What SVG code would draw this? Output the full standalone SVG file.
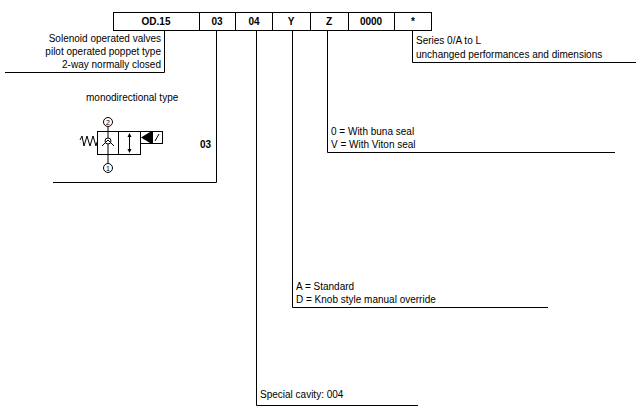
<svg xmlns="http://www.w3.org/2000/svg" width="643" height="411" viewBox="0 0 643 411">
<style>
text{font-family:"Liberation Sans",Arial,sans-serif;font-size:10px;fill:#000}
.b{font-weight:bold;text-anchor:middle}
.l{fill:none;stroke:#000;stroke-width:1}
</style>
<rect width="643" height="411" fill="#fff"/>
<g id="code">
<rect class="l" x="113.5" y="12.5" width="318" height="18"/>
<path class="l" d="M199.5 12.5V30.5M235.5 12.5V30.5M272.5 12.5V30.5M310.5 12.5V30.5M348.5 12.5V30.5M394.5 12.5V30.5"/>
<text class="b" x="156" y="25">OD.15</text>
<text class="b" x="217" y="25">03</text>
<text class="b" x="254" y="25">04</text>
<text class="b" x="291" y="25">Y</text>
<text class="b" x="329" y="25">Z</text>
<text class="b" x="371" y="25">0000</text>
<text class="b" x="413" y="25">*</text>
</g>
<g id="connectors">
<path class="l" d="M164.5 30.5V72.5H5"/>
<path class="l" d="M216.5 30.5V182.5H53"/>
<path class="l" d="M256.5 30.5V405.5H418"/>
<path class="l" d="M292.5 30.5V307.5H548"/>
<path class="l" d="M327.5 30.5V152.5H615"/>
<path class="l" d="M412.5 30.5V62.5H636"/>
</g>
<g id="desc">
<text x="161" y="42" text-anchor="end">Solenoid operated valves</text>
<text x="161" y="55" text-anchor="end">pilot operated poppet type</text>
<text x="161" y="68" text-anchor="end">2-way normally closed</text>
<text x="416" y="44">Series 0/A to L</text>
<text x="416" y="58">unchanged performances and dimensions</text>
<text x="331" y="135">0 = With buna seal</text>
<text x="331" y="148">V = With Viton seal</text>
<text x="296" y="290">A = Standard</text>
<text x="296" y="303">D = Knob style manual override</text>
<text x="260" y="398">Special cavity: 004</text>
<text x="86" y="101">monodirectional type</text>
<text x="200" y="148" style="font-weight:bold">03</text>
</g>
<g id="symbol">
<rect class="l" x="97.5" y="131.5" width="21" height="23"/>
<rect class="l" x="118.5" y="131.5" width="22" height="23"/>
<rect class="l" x="140.5" y="131.5" width="22" height="12"/>
<path d="M141 137.5L150 132V143Z" fill="#000"/>
<rect x="150" y="132" width="3" height="11" fill="#000"/>
<path class="l" d="M155 141L159 134"/>
<path class="l" d="M80 140L82 136L84 146L87 136L90 146L93 136L96 146L97 142"/>
<circle class="l" cx="108" cy="141" r="3"/>
<path class="l" d="M102 146L108 140L114 146"/>
<path class="l" d="M108 127V138M108 144V163"/>
<circle class="l" cx="108" cy="122" r="4.5"/>
<circle class="l" cx="108" cy="168" r="4.5"/>
<text x="108" y="125" style="font-size:7px;text-anchor:middle">2</text>
<text x="108" y="171" style="font-size:7px;text-anchor:middle">1</text>
<path class="l" d="M129.5 134V152"/>
<path d="M129.5 133L127.5 137H131.5Z M129.5 153L127.5 149H131.5Z" fill="#000"/>
</g>
</svg>
